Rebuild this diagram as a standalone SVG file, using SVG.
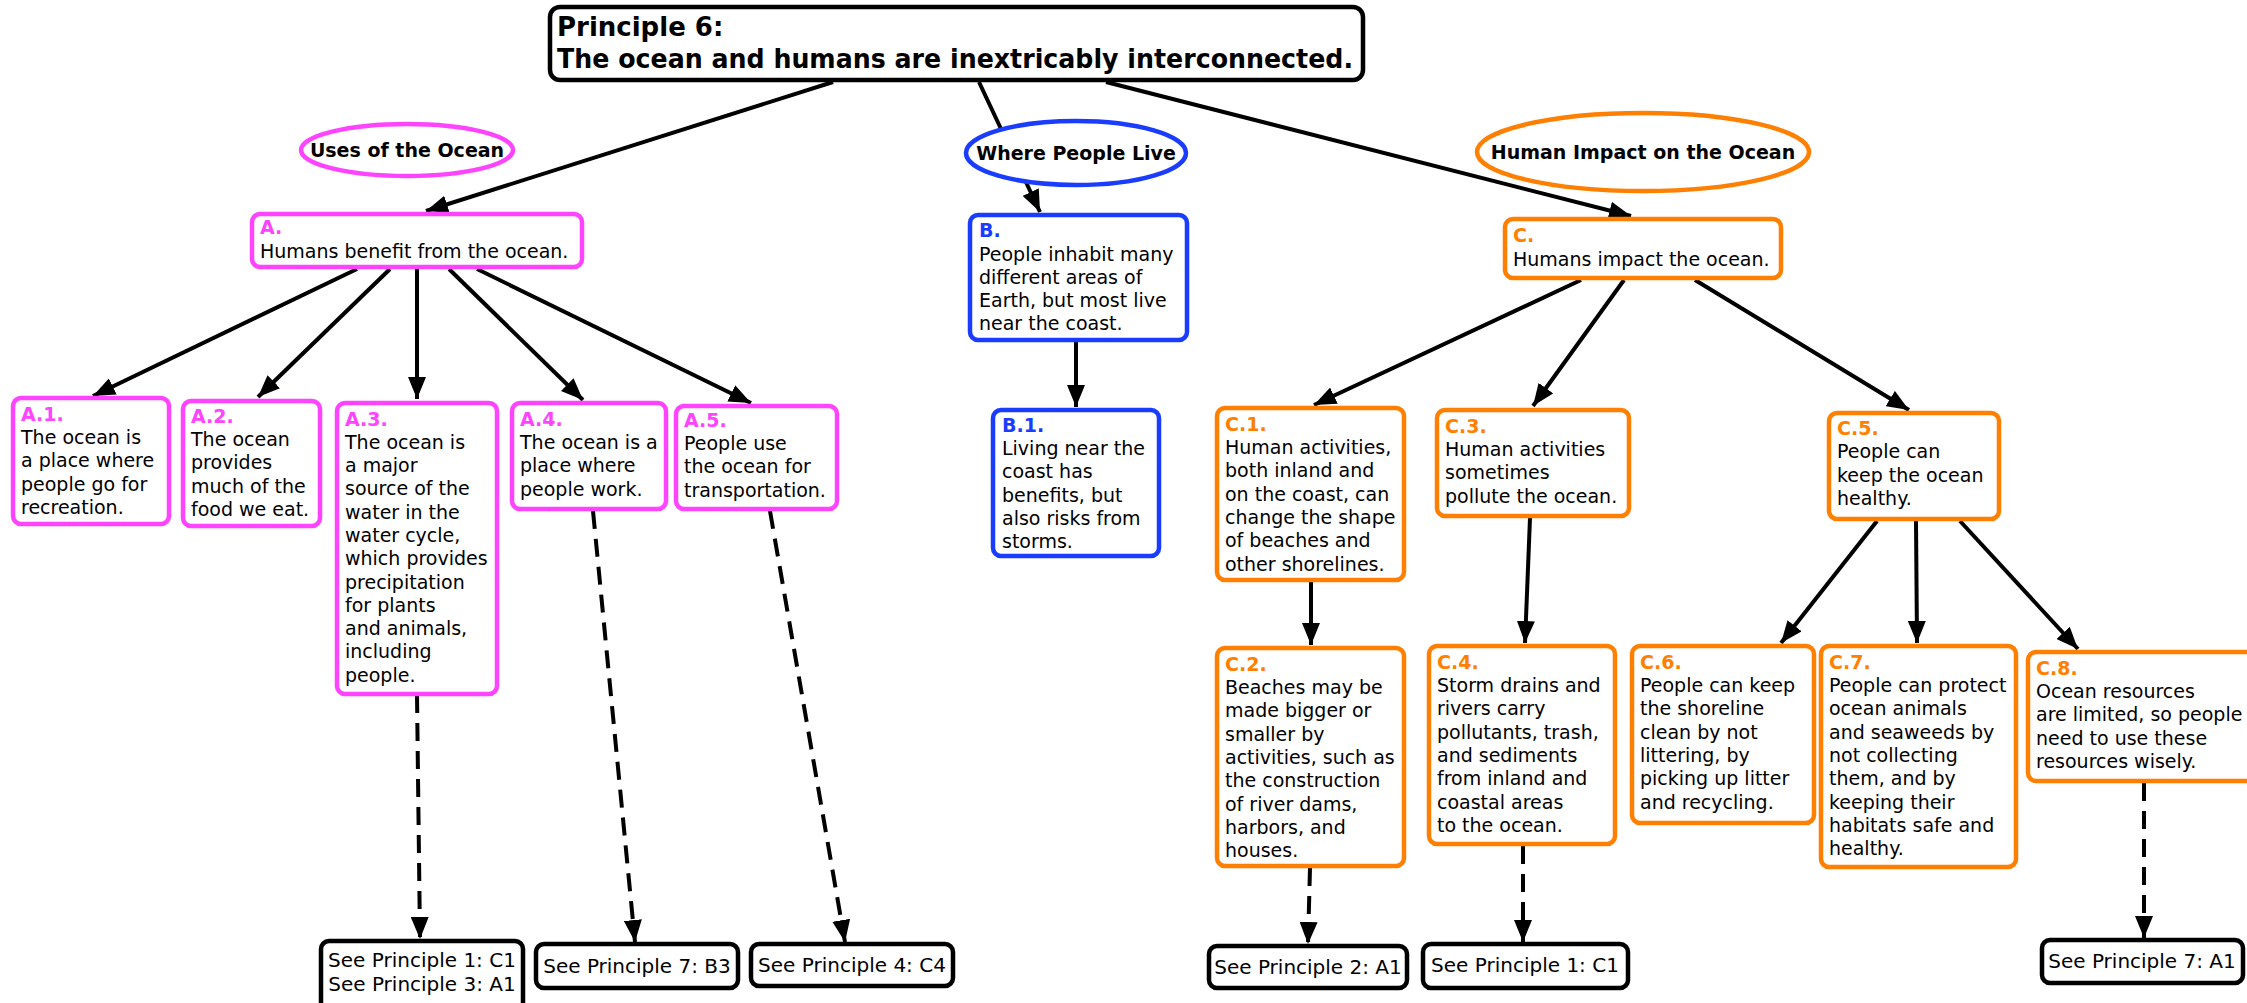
<svg xmlns="http://www.w3.org/2000/svg" width="2247" height="1003" viewBox="0 0 2247 1003">
<style>
.bx{fill:#fff;stroke-width:4.5}
.m{stroke:#ff44ff}.bl{stroke:#1a3cff}.o{stroke:#ff7f00}.k{stroke:#000}
.t{font-family:"DejaVu Sans",Verdana,sans-serif;font-size:19px;fill:#000}
.lb{font-weight:bold}
.lm{fill:#ff44ff}.lbl{fill:#1a3cff}.lo{fill:#ff7f00}
.eh{font-family:"DejaVu Sans",Verdana,sans-serif;font-size:19px;font-weight:bold;fill:#000;text-anchor:middle}
.ti{font-family:"DejaVu Sans",Verdana,sans-serif;font-size:26px;font-weight:bold;fill:#000}
.see{font-family:"DejaVu Sans",Verdana,sans-serif;font-size:20px;fill:#000;text-anchor:middle}
.c{stroke:#000;stroke-width:4;fill:none;marker-end:url(#ah)}
.d{stroke-dasharray:18 10}
</style>
<defs>
<marker id="ah" viewBox="0 0 22 18" refX="22" refY="9" markerWidth="22" markerHeight="18" markerUnits="userSpaceOnUse" orient="auto">
<path d="M0,0 L22,9 L0,18 z" fill="#000"/>
</marker>
</defs>
<rect width="2247" height="1003" fill="#fff"/>

<g id="connectors">
<line class="c" x1="833" y1="82" x2="426" y2="211"/>
<line class="c" x1="979" y1="82" x2="1040" y2="212"/>
<line class="c" x1="1106" y1="82" x2="1631" y2="216"/>
<line class="c" x1="357" y1="269" x2="93" y2="396"/>
<line class="c" x1="390" y1="269" x2="258" y2="397"/>
<line class="c" x1="417" y1="269" x2="417" y2="399"/>
<line class="c" x1="449" y1="269" x2="583" y2="400"/>
<line class="c" x1="477" y1="269" x2="751" y2="403"/>
<line class="c" x1="1076" y1="341" x2="1076" y2="407"/>
<line class="c" x1="1581" y1="280" x2="1314" y2="405"/>
<line class="c" x1="1624" y1="280" x2="1533" y2="406"/>
<line class="c" x1="1695" y1="280" x2="1909" y2="410"/>
<line class="c" x1="1311" y1="582" x2="1311" y2="645"/>
<line class="c" x1="1530" y1="518" x2="1525" y2="643"/>
<line class="c" x1="1877" y1="521" x2="1781" y2="643"/>
<line class="c" x1="1916" y1="521" x2="1917" y2="643"/>
<line class="c" x1="1960" y1="521" x2="2078" y2="649"/>
<line class="c d" x1="417" y1="695" x2="420" y2="939"/>
<line class="c d" x1="593" y1="511" x2="635" y2="942"/>
<line class="c d" x1="770" y1="511" x2="845" y2="942"/>
<line class="c d" x1="1310" y1="868" x2="1308" y2="944"/>
<line class="c d" x1="1523" y1="846" x2="1523" y2="942"/>
<line class="c d" x1="2144" y1="783" x2="2144" y2="938"/>
</g>

<g id="title">
<rect class="bx k" x="550" y="7" width="813" height="73" rx="10" stroke-width="5"/>
<text class="ti" x="557" y="36">Principle 6:</text>
<text class="ti" x="557" y="68" textLength="796" lengthAdjust="spacingAndGlyphs">The ocean and humans are inextricably interconnected.</text>
</g>

<g id="uses">
<ellipse cx="407" cy="150" rx="106" ry="26" fill="#fff" stroke="#ff44ff" stroke-width="4.5"/>
<text class="eh" x="407" y="157">Uses of the Ocean</text>
</g>
<g id="where">
<ellipse cx="1076" cy="153" rx="110" ry="32" fill="#fff" stroke="#1a3cff" stroke-width="4.5"/>
<text class="eh" x="1076" y="160">Where People Live</text>
</g>
<g id="impact">
<ellipse cx="1643" cy="152" rx="166" ry="39" fill="#fff" stroke="#ff7f00" stroke-width="4.5"/>
<text class="eh" x="1643" y="159">Human Impact on the Ocean</text>
</g>

<g id="A">
<rect class="bx m" x="252" y="214" width="330" height="53" rx="8"/>
<text class="t"><tspan class="lb lm" x="260" y="234">A.</tspan><tspan x="260" y="258">Humans benefit from the ocean.</tspan></text>
</g>
<g id="A1">
<rect class="bx m" x="13" y="398" width="156" height="126" rx="8"/>
<text class="t"><tspan class="lb lm" x="21" y="421">A.1.</tspan><tspan x="21" y="444">The ocean is</tspan><tspan x="21" y="467">a place where</tspan><tspan x="21" y="491">people go for</tspan><tspan x="21" y="514">recreation.</tspan></text>
</g>
<g id="A2">
<rect class="bx m" x="183" y="401" width="137" height="125" rx="8"/>
<text class="t"><tspan class="lb lm" x="191" y="423">A.2.</tspan><tspan x="191" y="446">The ocean</tspan><tspan x="191" y="469">provides</tspan><tspan x="191" y="493">much of the</tspan><tspan x="191" y="516">food we eat.</tspan></text>
</g>
<g id="A3">
<rect class="bx m" x="337" y="403" width="160" height="291" rx="8"/>
<text class="t"><tspan class="lb lm" x="345" y="426">A.3.</tspan><tspan x="345" y="449">The ocean is</tspan><tspan x="345" y="472">a major</tspan><tspan x="345" y="495">source of the</tspan><tspan x="345" y="519">water in the</tspan><tspan x="345" y="542">water cycle,</tspan><tspan x="345" y="565">which provides</tspan><tspan x="345" y="589">precipitation</tspan><tspan x="345" y="612">for plants</tspan><tspan x="345" y="635">and animals,</tspan><tspan x="345" y="658">including</tspan><tspan x="345" y="682">people.</tspan></text>
</g>
<g id="A4">
<rect class="bx m" x="512" y="403" width="154" height="106" rx="8"/>
<text class="t"><tspan class="lb lm" x="520" y="426">A.4.</tspan><tspan x="520" y="449">The ocean is a</tspan><tspan x="520" y="472">place where</tspan><tspan x="520" y="496">people work.</tspan></text>
</g>
<g id="A5">
<rect class="bx m" x="676" y="406" width="161" height="103" rx="8"/>
<text class="t"><tspan class="lb lm" x="684" y="427">A.5.</tspan><tspan x="684" y="450">People use</tspan><tspan x="684" y="473">the ocean for</tspan><tspan x="684" y="497">transportation.</tspan></text>
</g>

<g id="B">
<rect class="bx bl" x="970" y="215" width="217" height="125" rx="8"/>
<text class="t"><tspan class="lb lbl" x="979" y="237">B.</tspan><tspan x="979" y="261">People inhabit many</tspan><tspan x="979" y="284">different areas of</tspan><tspan x="979" y="307">Earth, but most live</tspan><tspan x="979" y="330">near the coast.</tspan></text>
</g>
<g id="B1">
<rect class="bx bl" x="993" y="410" width="166" height="146" rx="8"/>
<text class="t"><tspan class="lb lbl" x="1002" y="432">B.1.</tspan><tspan x="1002" y="455">Living near the</tspan><tspan x="1002" y="478">coast has</tspan><tspan x="1002" y="502">benefits, but</tspan><tspan x="1002" y="525">also risks from</tspan><tspan x="1002" y="548">storms.</tspan></text>
</g>

<g id="C">
<rect class="bx o" x="1505" y="219" width="276" height="59" rx="8"/>
<text class="t"><tspan class="lb lo" x="1513" y="242">C.</tspan><tspan x="1513" y="266">Humans impact the ocean.</tspan></text>
</g>
<g id="C1">
<rect class="bx o" x="1217" y="408" width="187" height="172" rx="8"/>
<text class="t"><tspan class="lb lo" x="1225" y="431">C.1.</tspan><tspan x="1225" y="454">Human activities,</tspan><tspan x="1225" y="477">both inland and</tspan><tspan x="1225" y="501">on the coast, can</tspan><tspan x="1225" y="524">change the shape</tspan><tspan x="1225" y="547">of beaches and</tspan><tspan x="1225" y="571">other shorelines.</tspan></text>
</g>
<g id="C3">
<rect class="bx o" x="1437" y="410" width="192" height="106" rx="8"/>
<text class="t"><tspan class="lb lo" x="1445" y="433">C.3.</tspan><tspan x="1445" y="456">Human activities</tspan><tspan x="1445" y="479">sometimes</tspan><tspan x="1445" y="503">pollute the ocean.</tspan></text>
</g>
<g id="C5">
<rect class="bx o" x="1829" y="413" width="170" height="106" rx="8"/>
<text class="t"><tspan class="lb lo" x="1837" y="435">C.5.</tspan><tspan x="1837" y="458">People can</tspan><tspan x="1837" y="482">keep the ocean</tspan><tspan x="1837" y="505">healthy.</tspan></text>
</g>
<g id="C2">
<rect class="bx o" x="1217" y="648" width="187" height="218" rx="8"/>
<text class="t"><tspan class="lb lo" x="1225" y="671">C.2.</tspan><tspan x="1225" y="694">Beaches may be</tspan><tspan x="1225" y="717">made bigger or</tspan><tspan x="1225" y="741">smaller by</tspan><tspan x="1225" y="764">activities, such as</tspan><tspan x="1225" y="787">the construction</tspan><tspan x="1225" y="811">of river dams,</tspan><tspan x="1225" y="834">harbors, and</tspan><tspan x="1225" y="857">houses.</tspan></text>
</g>
<g id="C4">
<rect class="bx o" x="1429" y="646" width="186" height="198" rx="8"/>
<text class="t"><tspan class="lb lo" x="1437" y="669">C.4.</tspan><tspan x="1437" y="692">Storm drains and</tspan><tspan x="1437" y="715">rivers carry</tspan><tspan x="1437" y="739">pollutants, trash,</tspan><tspan x="1437" y="762">and sediments</tspan><tspan x="1437" y="785">from inland and</tspan><tspan x="1437" y="809">coastal areas</tspan><tspan x="1437" y="832">to the ocean.</tspan></text>
</g>
<g id="C6">
<rect class="bx o" x="1632" y="646" width="182" height="177" rx="8"/>
<text class="t"><tspan class="lb lo" x="1640" y="669">C.6.</tspan><tspan x="1640" y="692">People can keep</tspan><tspan x="1640" y="715">the shoreline</tspan><tspan x="1640" y="739">clean by not</tspan><tspan x="1640" y="762">littering, by</tspan><tspan x="1640" y="785">picking up litter</tspan><tspan x="1640" y="809">and recycling.</tspan></text>
</g>
<g id="C7">
<rect class="bx o" x="1821" y="646" width="195" height="221" rx="8"/>
<text class="t"><tspan class="lb lo" x="1829" y="669">C.7.</tspan><tspan x="1829" y="692">People can protect</tspan><tspan x="1829" y="715">ocean animals</tspan><tspan x="1829" y="739">and seaweeds by</tspan><tspan x="1829" y="762">not collecting</tspan><tspan x="1829" y="785">them, and by</tspan><tspan x="1829" y="809">keeping their</tspan><tspan x="1829" y="832">habitats safe and</tspan><tspan x="1829" y="855">healthy.</tspan></text>
</g>
<g id="C8">
<rect class="bx o" x="2028" y="652" width="232" height="129" rx="8"/>
<text class="t"><tspan class="lb lo" x="2036" y="675">C.8.</tspan><tspan x="2036" y="698">Ocean resources</tspan><tspan x="2036" y="721">are limited, so people</tspan><tspan x="2036" y="745">need to use these</tspan><tspan x="2036" y="768">resources wisely.</tspan></text>
</g>

<g id="seeA3">
<rect class="bx k" x="321" y="941" width="202" height="75" rx="8"/>
<text class="see"><tspan x="422" y="967">See Principle 1: C1</tspan><tspan x="422" y="991">See Principle 3: A1</tspan></text>
</g>
<g id="seeA4">
<rect class="bx k" x="536" y="944" width="202" height="44" rx="8"/>
<text class="see" x="637" y="973">See Principle 7: B3</text>
</g>
<g id="seeA5">
<rect class="bx k" x="751" y="944" width="202" height="42" rx="8"/>
<text class="see" x="852" y="972">See Principle 4: C4</text>
</g>
<g id="seeC2">
<rect class="bx k" x="1209" y="946" width="198" height="42" rx="8"/>
<text class="see" x="1308" y="974">See Principle 2: A1</text>
</g>
<g id="seeC4">
<rect class="bx k" x="1423" y="944" width="205" height="44" rx="8"/>
<text class="see" x="1525" y="972">See Principle 1: C1</text>
</g>
<g id="seeC8">
<rect class="bx k" x="2042" y="940" width="201" height="43" rx="8"/>
<text class="see" x="2142" y="968">See Principle 7: A1</text>
</g>
</svg>
